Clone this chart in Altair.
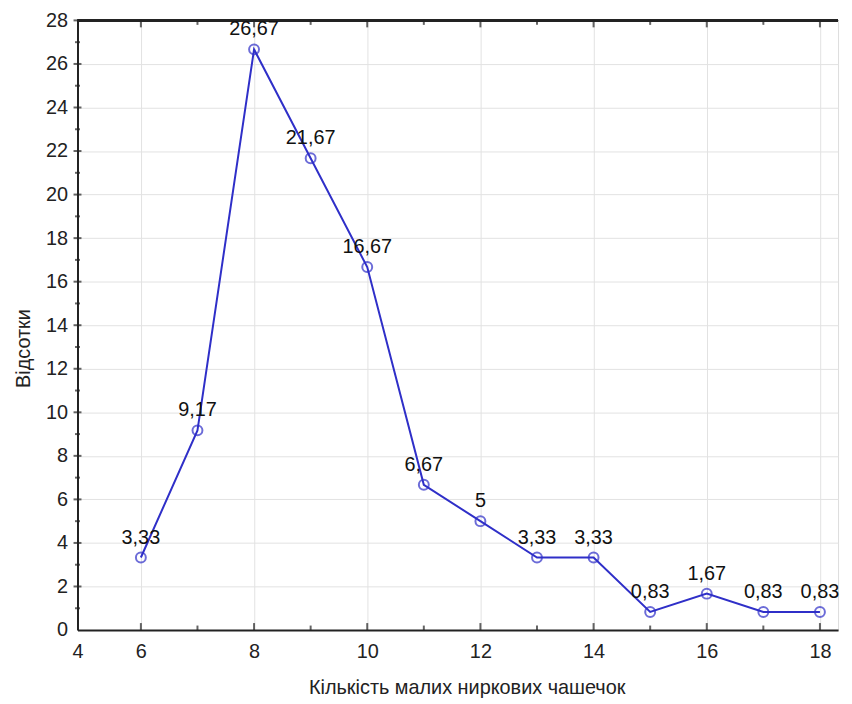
import altair as alt
import pandas as pd

# Data
counts = [6, 7, 8, 9, 10, 11, 12, 13, 14, 15, 16, 17, 18]
percents = [3.33, 9.17, 26.67, 21.67, 16.67, 6.67, 5, 3.33, 3.33, 0.83, 1.67, 0.83, 0.83]
point_labels = ["3,33", "9,17", "26,67", "21,67", "16,67", "6,67", "5",
                "3,33", "3,33", "0,83", "1,67", "0,83", "0,83"]

x_tick_values = [4.88, 6, 8, 10, 12, 14, 16, 18]
x_minor = [7, 9, 11, 13, 15, 17]
y_tick_values = list(range(0, 29, 2))
y_minor = list(range(1, 28, 2))

x_title = "Кількість малих ниркових чашечок"
y_title = "Відсотки"

W, H = 766, 614
FONT = "Liberation Sans"
BLUE = "#2f2fc8"
FS = 20

df = pd.DataFrame({"x": counts, "y": percents, "label": point_labels})

xscale = alt.Scale(domain=[4.88, 18.32], nice=False, zero=False)
yscale = alt.Scale(domain=[0, 28], nice=False)

x_axis = alt.Axis(values=x_tick_values,
                  labelExpr="datum.value < 5 ? '4' : format(datum.value, 'd')",
                  grid=True, gridColor="#e2e2e2", ticks=False, domain=True,
                  domainColor="#222", domainWidth=2, labelFontSize=FS, labelFont=FONT,
                  labelColor="#222", labelPadding=12, title=x_title, titleFont=FONT,
                  titleFontSize=FS, titleFontWeight="normal", titleColor="#222",
                  titlePadding=16, titleX=392, labelFlush=False)
y_axis = alt.Axis(values=y_tick_values, grid=True, gridColor="#e2e2e2", ticks=False,
                  domain=True, domainColor="#222", domainWidth=2, labelFontSize=FS,
                  labelFont=FONT, labelColor="#222", labelPadding=10, title=y_title,
                  titleFont=FONT, titleFontSize=FS, titleFontWeight="normal",
                  titleColor="#222", titlePadding=12, titleY=330)

base = alt.Chart(df)

line = base.mark_line(color=BLUE, strokeWidth=2).encode(
    x=alt.X("x:Q", scale=xscale, axis=x_axis),
    y=alt.Y("y:Q", scale=yscale, axis=y_axis),
)
pts = base.mark_point(shape="circle", size=100, filled=False, color=BLUE, strokeWidth=2).encode(
    x=alt.X("x:Q", scale=xscale), y=alt.Y("y:Q", scale=yscale)
)
labels = base.mark_text(font=FONT, fontSize=FS, color="#111", dy=-20).encode(
    x=alt.X("x:Q", scale=xscale), y=alt.Y("y:Q", scale=yscale), text="label:N"
)

# tick marks on the frame
xmaj = pd.DataFrame({"v": x_tick_values[1:]})
xmin = pd.DataFrame({"v": x_minor})
ymaj = pd.DataFrame({"v": y_tick_values[1:]})
ymin = pd.DataFrame({"v": y_minor})

xt_bottom_maj = alt.Chart(xmaj).mark_tick(color="#222", thickness=2, size=8).encode(
    x=alt.X("v:Q", scale=xscale), y=alt.value(H - 3))
xt_bottom_min = alt.Chart(xmin).mark_tick(color="#222", thickness=2, size=5).encode(
    x=alt.X("v:Q", scale=xscale), y=alt.value(H - 2))
xt_top_maj = alt.Chart(xmaj).mark_tick(color="#222", thickness=2, size=8).encode(
    x=alt.X("v:Q", scale=xscale), y=alt.value(3))
xt_top_min = alt.Chart(xmin).mark_tick(color="#222", thickness=2, size=5).encode(
    x=alt.X("v:Q", scale=xscale), y=alt.value(2))
yt_maj = alt.Chart(ymaj).mark_tick(color="#222", thickness=2, size=8, orient="horizontal").encode(
    y=alt.Y("v:Q", scale=yscale), x=alt.value(0))
yt_min = alt.Chart(ymin).mark_tick(color="#222", thickness=2, size=5, orient="horizontal").encode(
    y=alt.Y("v:Q", scale=yscale), x=alt.value(0))
top_line = alt.Chart(xmaj).mark_rule(color="#222", strokeWidth=2).encode(
    x=alt.value(0), x2=alt.value(W), y=alt.value(0))

chart = alt.layer(
    line, top_line, xt_bottom_maj, xt_bottom_min, xt_top_maj, xt_top_min, yt_maj, yt_min,
    pts, labels
).properties(
    width=W, height=H,
    autosize=alt.AutoSizeParams(type="none"),
    padding={"left": 70, "top": 10, "right": 6, "bottom": 70},
).configure_view(stroke=None).configure(background="white")

chart.save("out.html", embed_options={"renderer": "svg", "actions": False})
